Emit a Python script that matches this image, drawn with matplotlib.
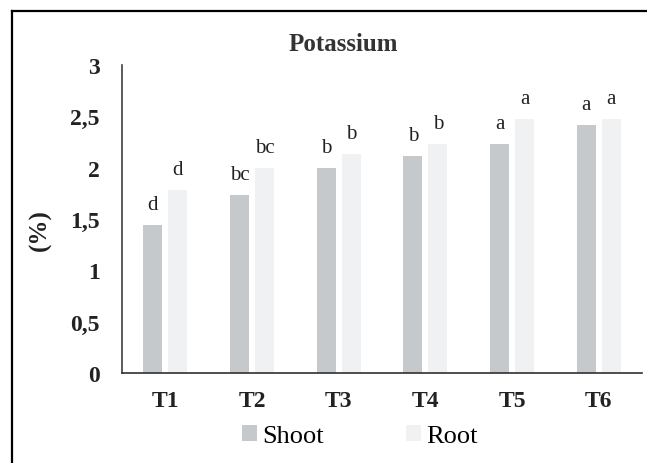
import matplotlib.pyplot as plt
import numpy as np
from matplotlib.lines import Line2D

plt.rcParams['font.family'] = ['Liberation Serif', 'DejaVu Serif']

treatments = ["T1", "T2", "T3", "T4", "T5", "T6"]
shoot = [1.44, 1.73, 2.00, 2.11, 2.23, 2.42]
root = [1.78, 2.00, 2.13, 2.23, 2.47, 2.47]
shoot_letters = ["d", "bc", "b", "b", "a", "a"]
root_letters = ["d", "bc", "b", "b", "a", "a"]
yticks = [0, 0.5, 1, 1.5, 2, 2.5, 3]
ytick_labels = ["0", "0,5", "1", "1,5", "2", "2,5", "3"]

fig = plt.figure(figsize=(6.47, 4.64), dpi=100)
ax = fig.add_axes([0.1886, 0.194, 0.8037, 0.6638])

x = np.arange(len(treatments))
w = 0.22
off = 0.145
b1 = ax.bar(x - off, shoot, w, color="#c6c9cc", label="Shoot")
b2 = ax.bar(x + off, root, w, color="#f0f1f3", label="Root")

# significance letters above bars
for bars, letters in [(b1, shoot_letters), (b2, root_letters)]:
    for bar, lab in zip(bars, letters):
        ax.annotate(lab, (bar.get_x() + bar.get_width() / 2, bar.get_height()),
                    xytext=(0, 11.5), textcoords="offset points",
                    ha="center", va="baseline", fontsize=15, color="#222222")

ax.set_xlim(-0.5, 5.5)
ax.set_ylim(0, 3)
ax.set_xticks(x)
ax.set_xticklabels(treatments, fontsize=17, fontweight="bold", color="#222222")
ax.set_yticks(yticks)
ax.set_yticklabels(ytick_labels, fontsize=17, fontweight="bold", color="#222222")
ax.tick_params(length=0)
ax.tick_params(axis="x", pad=12)
ax.tick_params(axis="y", pad=16)
for s in ["top", "right"]:
    ax.spines[s].set_visible(False)
ax.spines["left"].set_color("#404040")
ax.spines["bottom"].set_color("#303030")
ax.spines["left"].set_linewidth(1.2)
ax.spines["bottom"].set_linewidth(1.2)

fig.text(40 / 647, 1 - 230 / 464, "(%)", rotation=90, fontsize=18, fontweight="bold",
         ha="center", va="center", color="#222222")
fig.text(343.5 / 647, 1 - 51 / 464, "Potassium", fontsize=18, fontweight="bold",
         ha="center", va="baseline", color="#333333")

fig.legend(handles=[b1, b2], loc="center", bbox_to_anchor=(360 / 647, 27 / 464),
           ncol=2, frameon=False, prop={"family": "Liberation Serif", "size": 19},
           handlelength=0.57, handleheight=0.57, columnspacing=3.1,
           handletextpad=0.2, borderpad=0, borderaxespad=0)

# frame edges visible at left and top of the picture
fig.add_artist(Line2D([12 / 647, 12 / 647], [0, 1 - 12 / 464], transform=fig.transFigure,
                      color="black", linewidth=1.6))
fig.add_artist(Line2D([12 / 647, 1], [1 - 12 / 464, 1 - 12 / 464], transform=fig.transFigure,
                      color="black", linewidth=1.6))

fig.savefig("out.png", dpi=100)
